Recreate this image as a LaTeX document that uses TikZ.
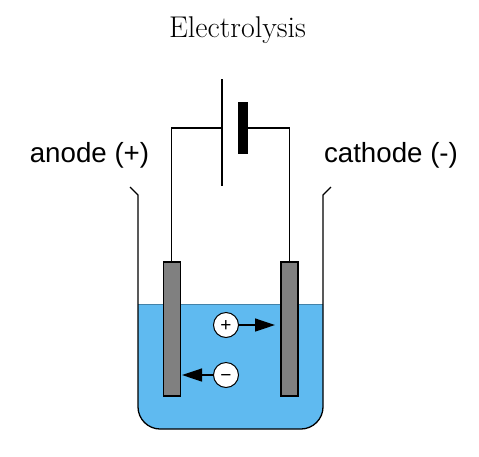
\documentclass[tikz,border=0pt]{standalone}
\usepackage{fontspec}
\setsansfont{Liberation Sans}
\usetikzlibrary{arrows.meta}
\definecolor{water}{HTML}{5FBAF0}
\definecolor{metal}{HTML}{808080}
\tikzset{
  line/.style={draw=black,line width=1.3pt},
  electrode/.style={draw=black,fill=metal,line width=1.2pt,minimum width=17pt,minimum height=134pt,inner sep=0pt,outer sep=0pt},
  ion/.style={circle,draw=black,fill=white,line width=1pt,minimum size=25pt,inner sep=0pt,font=\fontsize{19}{19}\sffamily},
  flow/.style={line,-{Triangle[length=20pt,width=13pt]}},
  sidelabel/.style={inner sep=0pt,font=\fontsize{27.7}{28}\sffamily},
}
\begin{document}
\begin{tikzpicture}[x=1pt,y=-1pt]
\useasboundingbox (0,0) rectangle (479,456);
\fill[white] (0,0) rectangle (479,456);
% water
\fill[water] (138,304) -- (138,407) .. controls (138,419) and (148,429) .. (160,429) -- (301,429) .. controls (313,429) and (323,419) .. (323,407) -- (323,304) -- cycle;
\draw[draw=black!30!water,line width=0.5pt] (138,304) -- (323,304);
% beaker
\draw[line,line join=round] (130,187) -- (138,195) -- (138,407) .. controls (138,419) and (148,429) .. (160,429) -- (301,429) .. controls (313,429) and (323,419) .. (323,407) -- (323,195) -- (331,187);
% electrodes
\node[electrode] (anodeplate) at (171.7,329) {};
\node[electrode] (cathodeplate) at (289.5,329) {};
% battery
\coordinate (plusA) at (222,79);
\coordinate (plusB) at (222,186);
\draw[line] (plusA) -- (plusB);
\node[fill=black,minimum width=10pt,minimum height=52pt,inner sep=0pt,outer sep=0pt] (minusplate) at (243,128) {};
\coordinate (plusmid) at (222,128);
\draw[line] (anodeplate.north) |- (plusmid);
\draw[line] (cathodeplate.north) |- (minusplate.east);
% ions
\node[ion] (pos) at (226,325) {\smash{\raisebox{-6.4pt}{+}}};
\node[ion] (neg) at (226,375) {\smash{\raisebox{-6.4pt}{\char"2212}}};
\coordinate (posend) at (275,325);
\coordinate (negend) at (182,375);
\draw[flow] (pos) -- (posend);
\draw[flow] (neg) -- (negend);
% text
\node[inner sep=0pt,font=\fontsize{30}{31}\selectfont] (title) at (237.5,30) {Electrolysis};
\node[sidelabel] (anodelabel) at (89.5,155) {anode (+)};
\node[sidelabel] (cathodelabel) at (391,155) {cathode (-)};
\end{tikzpicture}
\end{document}
